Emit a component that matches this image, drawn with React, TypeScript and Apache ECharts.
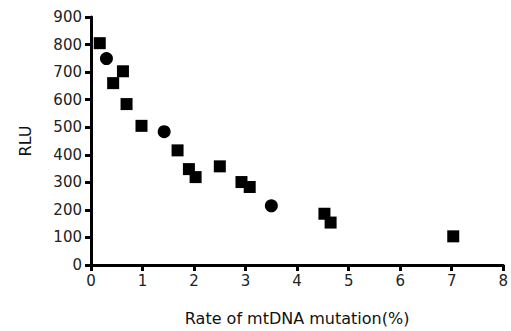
import React, { useEffect, useRef } from "react";
import * as echarts from "echarts";

const xTicks = [0, 1, 2, 3, 4, 5, 6, 7, 8];
const yTicks = [0, 100, 200, 300, 400, 500, 600, 700, 800, 900];

const squareX = [0.17, 0.62, 0.43, 0.69, 0.98, 1.68, 1.9, 2.03, 2.5, 2.92, 3.08, 4.53, 4.65, 7.03];
const squareY = [805, 703, 660, 584, 505, 416, 348, 319, 358, 301, 283, 186, 154, 104];
const circleX = [0.3, 1.42, 3.5];
const circleY = [749, 484, 215];

export default function App() {
  const ref = useRef<HTMLDivElement>(null);
  useEffect(() => {
    if (!ref.current) return;
    const chart = echarts.init(ref.current, null, { renderer: "svg" });
    const font = "DejaVu Sans";
    chart.setOption({
      animation: false,
      backgroundColor: "#ffffff",
      grid: { left: 91, right: 4, top: 17, bottom: 63, containLabel: false },
      xAxis: {
        type: "value",
        min: xTicks[0],
        max: xTicks[xTicks.length - 1],
        interval: 1,
        name: "Rate of mtDNA mutation(%)",
        nameLocation: "middle",
        nameGap: 45,
        nameTextStyle: { fontFamily: font, fontSize: 16, color: "#111" },
        axisLine: { show: true, lineStyle: { color: "#000", width: 3 } },
        axisTick: { show: true, inside: false, length: 6, lineStyle: { color: "#000", width: 3 } },
        axisLabel: { fontFamily: font, fontSize: 15, color: "#222", margin: 8 },
        splitLine: { show: false },
      },
      yAxis: {
        type: "value",
        min: yTicks[0],
        max: yTicks[yTicks.length - 1],
        interval: 100,
        name: "RLU",
        nameLocation: "middle",
        nameGap: 58,
        nameTextStyle: { fontFamily: font, fontSize: 16, color: "#111" },
        axisLine: { show: true, lineStyle: { color: "#000", width: 3 } },
        axisTick: { show: true, inside: false, length: 6, lineStyle: { color: "#000", width: 3 } },
        axisLabel: { fontFamily: font, fontSize: 15, color: "#222", margin: 9 },
        splitLine: { show: false },
      },
      series: [
        {
          type: "scatter",
          symbol: "rect",
          symbolSize: 12,
          itemStyle: { color: "#000", opacity: 1 },
          data: squareX.map((x, i) => [x, squareY[i]]),
        },
        {
          type: "scatter",
          symbol: "circle",
          symbolSize: 13,
          itemStyle: { color: "#000", opacity: 1 },
          data: circleX.map((x, i) => [x, circleY[i]]),
        },
      ],
    });
    return () => chart.dispose();
  }, []);
  return <div ref={ref} style={{ width: 511, height: 331, position: "absolute", left: 0, top: 0 }} />;
}
